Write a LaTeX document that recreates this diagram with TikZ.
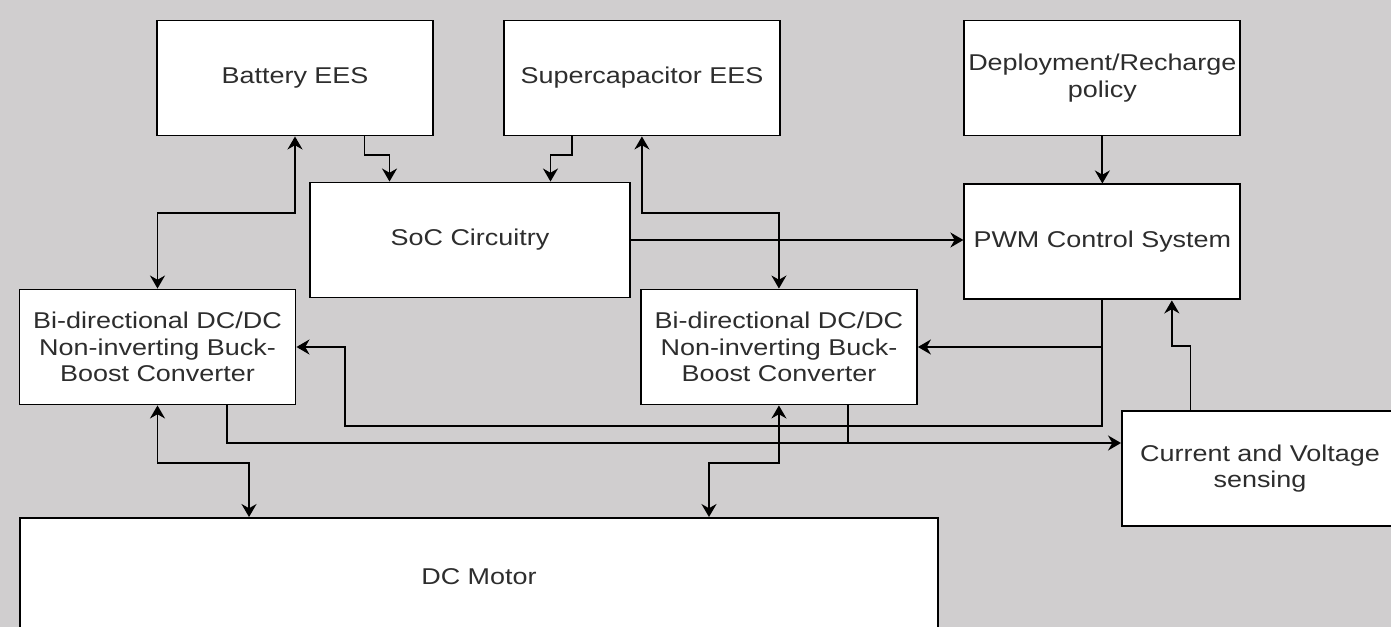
\documentclass[tikz,border=0pt]{standalone}
\usepackage{fontspec}
\setmainfont[FakeStretch=1.18]{Liberation Sans}
\usepackage{xcolor}
\usepackage{tikz}
\usetikzlibrary{arrows.meta,positioning,calc}
\definecolor{bggray}{RGB}{208,206,207}
\definecolor{txtgray}{RGB}{45,45,45}

\begin{document}
\begin{tikzpicture}[
  line width=1.1pt,
  every node/.style={font=\fontsize{13}{15}\selectfont, text=txtgray},
  blk/.style={draw, fill=white, minimum width=5.52cm, minimum height=2.3cm, align=center, inner xsep=1pt},
  arr/.style={-{Stealth[length=2.6mm,width=3mm]}},
  biarr/.style={{Stealth[length=2.6mm,width=3mm]}-{Stealth[length=2.6mm,width=3mm]}},
]
\fill[bggray] (0,0) rectangle (27.82,-12.54);
\useasboundingbox (0,0) rectangle (27.82,-12.54);
\node[blk] (bat) at (5.90,-1.56) {Battery EES};
\node[blk, right=1.38cm of bat] (sup) {Supercapacitor EES};
\node[blk, right=3.65cm of sup] (dep) {Deployment/Recharge\\policy};
\node[blk, below=0.94cm of dep] (pwm) {PWM Control System};
\node[blk, minimum width=6.4cm] (soc) at (9.40,-4.80) {SoC Circuitry};
\node[blk] (lbd) at (3.15,-6.94) {Bi-directional DC/DC\\Non-inverting Buck-\\Boost Converter};
\node[blk, right=6.87cm of lbd] (rbd) {Bi-directional DC/DC\\Non-inverting Buck-\\Boost Converter};
\node[blk] (cvs) at (25.20,-9.37) {Current and Voltage\\sensing};
\node[blk, minimum width=18.36cm, minimum height=2.36cm] (dcm) at (9.58,-11.54) {DC Motor};
\coordinate (batq) at ($(bat.south west)!0.75!(bat.south east)$);
\coordinate (supq) at ($(sup.south west)!0.25!(sup.south east)$);
\coordinate (socq1) at ($(soc.north west)!0.25!(soc.north east)$);
\coordinate (socq3) at ($(soc.north west)!0.75!(soc.north east)$);
\coordinate (pwmq) at ($(pwm.south west)!0.75!(pwm.south east)$);
\coordinate (cvsq) at ($(cvs.north west)!0.25!(cvs.north east)$);
\coordinate (lbdq) at ($(lbd.south west)!0.75!(lbd.south east)$);
\coordinate (rbdq) at ($(rbd.south west)!0.75!(rbd.south east)$);
\coordinate (dcmq1) at ($(dcm.north west)!0.25!(dcm.north east)$);
\coordinate (dcmq3) at ($(dcm.north west)!0.75!(dcm.north east)$);
\coordinate (sens) at ([yshift=0.51cm]cvs.west);
\draw[biarr] (bat.south) -- ++(0,-1.54) -| (lbd.north);
\draw[arr] (batq) -- ++(0,-0.38) -| (socq1);
\draw[arr] (supq) -- ++(0,-0.38) -| (socq3);
\draw[biarr] (sup.south) -- ++(0,-1.54) -| (rbd.north);
\draw[arr] (soc.east) -- (soc.east -| pwm.west);
\draw[arr] (dep) -- (pwm);
\draw[arr] (pwm.south) -- ++(0,-2.51) -- ++(-15.15,0) |- (lbd.east);
\draw[arr] (pwm.south |- rbd.east) -- (rbd.east);
\draw[arr] (lbdq) |- (sens);
\draw (rbdq) -- (rbdq |- sens);
\draw[arr] (cvsq) -- ++(0,1.28) -| (pwmq);
\draw[biarr] (lbd.south) -- ++(0,-1.16) -| (dcmq1);
\draw[biarr] (rbd.south) -- ++(0,-1.16) -| (dcmq3);
\end{tikzpicture}
\end{document}
